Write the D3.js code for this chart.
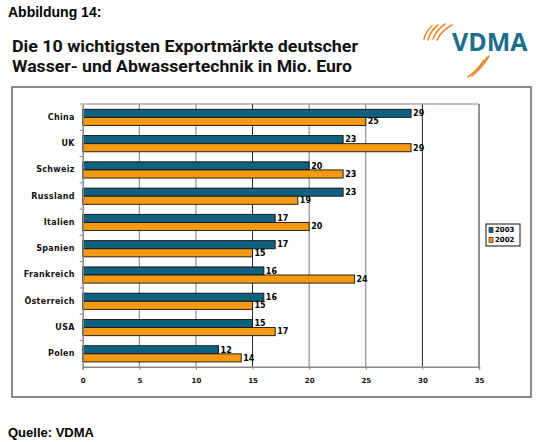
<!DOCTYPE html>
<html>
<head>
<meta charset="utf-8">
<script src="https://cdn.jsdelivr.net/npm/d3@7"></script>
<style>
  body { margin: 0; background: #fff; }
  svg { display: block; }
</style>
</head>
<body>
<div id="chart"></div>
<script>
const width = 543;
const height = 442;

// data
const categories = ['China', 'UK', 'Schweiz', 'Russland', 'Italien', 'Spanien', 'Frankreich', 'Österreich', 'USA', 'Polen'];
const years = ['2003', '2002'];
const values2003 = [29, 23, 20, 23, 17, 17, 16, 16, 15, 12];
const values2002 = [25, 29, 23, 19, 20, 15, 24, 15, 17, 14];
const xTicks = [0, 5, 10, 15, 20, 25, 30, 35];
const titleLines = ['Die 10 wichtigsten Exportmärkte deutscher', 'Wasser- und Abwassertechnik in Mio. Euro'];

const colors = { '2003': '#0f6180', '2002': '#f39a12' };

const svg = d3.select('#chart').append('svg')
  .attr('width', width)
  .attr('height', height);

svg.append('rect').attr('width', width).attr('height', height).attr('fill', '#fff');

// header
svg.append('text')
  .attr('x', 8).attr('y', 17)
  .style('font', 'bold 14px "Liberation Sans", Arial, sans-serif')
  .text('Abbildung 14:');

// title, two lines
const titleWidths = [346, 340];
svg.append('g').selectAll('text').data(titleLines).join('text')
  .attr('x', 12)
  .attr('y', (d, i) => 51.5 + i * 20)
  .style('font-family', 'Roboto, sans-serif')
  .style('font-weight', 700)
  .style('font-size', '17px')
  .attr('fill', '#111')
  .attr('textLength', (d, i) => titleWidths[i])
  .attr('lengthAdjust', 'spacingAndGlyphs')
  .text(d => d);

// logo
const logo = svg.append('g');
logo.append('text')
  .attr('x', 452).attr('y', 51)
  .style('font', 'bold 25px "Open Sans", sans-serif')
  .style('fill', '#1b6f8b')
  .text('VDMA');
const swooshes = [
  'M424,39 Q426,31 432,26',
  'M428,40 Q431,30 438,25',
  'M433,39 Q437,29 445,24',
  'M437,40 Q442,30 452,25',
  'M468,77 Q478,70 484,60',
  'M472,76 Q482,68 487,57',
  'M478,70 Q485,64 489,56'
];
logo.selectAll('path.sw').data(swooshes).join('path')
  .attr('class', 'sw')
  .attr('d', d => d)
  .attr('fill', 'none')
  .attr('stroke', '#e98a2f')
  .attr('stroke-width', 1.6)
  .attr('stroke-linecap', 'round');

// chart frame
svg.append('rect')
  .attr('x', 12).attr('y', 87)
  .attr('width', 519).attr('height', 310)
  .attr('fill', 'none')
  .attr('stroke', '#666')
  .attr('stroke-width', 1.5);

const plot = { left: 82.7, right: 479, top: 104, bottom: 366.7 };

const x = d3.scaleLinear().domain([0, 35]).range([plot.left, plot.right]);
const y = d3.scaleBand().domain(categories).range([plot.top, plot.bottom]);
const ySub = d3.scaleBand().domain(years).range([5.3, 21.5]);

// gridlines
svg.append('g').selectAll('line').data(xTicks.slice(1)).join('line')
  .attr('x1', d => x(d)).attr('x2', d => x(d))
  .attr('y1', plot.top).attr('y2', plot.bottom)
  .attr('stroke', d => (d === 15 || d >= 30) ? '#222' : '#7a7a7a')
  .attr('stroke-width', 1);

svg.append('line')
  .attr('x1', plot.left).attr('x2', plot.right)
  .attr('y1', plot.top).attr('y2', plot.top)
  .attr('stroke', '#888');

// bars
const rows = categories.map((c, i) => ({ cat: c, vals: [
  { year: '2003', v: values2003[i] },
  { year: '2002', v: values2002[i] }
] }));

const groups = svg.append('g').selectAll('g').data(rows).join('g')
  .attr('transform', d => `translate(0,${y(d.cat)})`);

groups.selectAll('rect').data(d => d.vals).join('rect')
  .attr('x', x(0))
  .attr('y', d => ySub(d.year))
  .attr('width', d => x(d.v) - x(0))
  .attr('height', ySub.bandwidth())
  .attr('fill', d => colors[d.year])
  .attr('stroke', '#111')
  .attr('stroke-width', 0.9);

groups.selectAll('text').data(d => d.vals).join('text')
  .attr('x', d => x(d.v) + 2)
  .attr('y', d => ySub(d.year) + ySub.bandwidth() / 2)
  .attr('dy', '0.35em')
  .style('font', 'bold 8px "DejaVu Sans", sans-serif')
  .text(d => d.v);

// axes
const xAxis = svg.append('g')
  .attr('transform', `translate(0,${plot.bottom})`)
  .call(d3.axisBottom(x).tickValues(xTicks).tickSize(3).tickPadding(8));
xAxis.select('.domain').attr('stroke', '#888').attr('stroke-width', 1.5);
xAxis.selectAll('.tick line').attr('stroke', '#888');
xAxis.selectAll('.tick text')
  .style('font', 'bold 7px "DejaVu Sans", sans-serif')
  .attr('fill', '#111');

const yAxis = svg.append('g')
  .attr('transform', `translate(${plot.left},0)`)
  .call(d3.axisLeft(y).tickSize(0).tickPadding(8));
yAxis.select('.domain').attr('stroke', '#888').attr('stroke-width', 1.5);
yAxis.selectAll('.tick text')
  .style('font', 'bold 8px "DejaVu Sans", sans-serif')
  .style('letter-spacing', '0.3px')
  .attr('fill', '#111');

// category boundary ticks
svg.append('g').selectAll('line').data(categories).join('line')
  .attr('x1', plot.left - 3).attr('x2', plot.left)
  .attr('y1', d => y(d)).attr('y2', d => y(d))
  .attr('stroke', '#888');

// legend
const legend = svg.append('g').attr('transform', 'translate(486,224)');
legend.append('rect')
  .attr('width', 34).attr('height', 22)
  .attr('fill', '#fff').attr('stroke', '#111').attr('stroke-width', 1);
const li = legend.selectAll('g').data(years).join('g')
  .attr('transform', (d, i) => `translate(3,${6 + i * 10})`);
li.append('rect')
  .attr('x', 0).attr('y', -2.5)
  .attr('width', 4).attr('height', 5)
  .attr('fill', d => colors[d])
  .attr('stroke', '#111').attr('stroke-width', 0.6);
li.append('text')
  .attr('x', 6).attr('dy', '0.35em')
  .style('font', 'bold 7px "DejaVu Sans", sans-serif')
  .text(d => d);

// source
svg.append('text')
  .attr('x', 8).attr('y', 437)
  .style('font', 'bold 13px "Liberation Sans", Arial, sans-serif')
  .text('Quelle: VDMA');
</script>
</body>
</html>
